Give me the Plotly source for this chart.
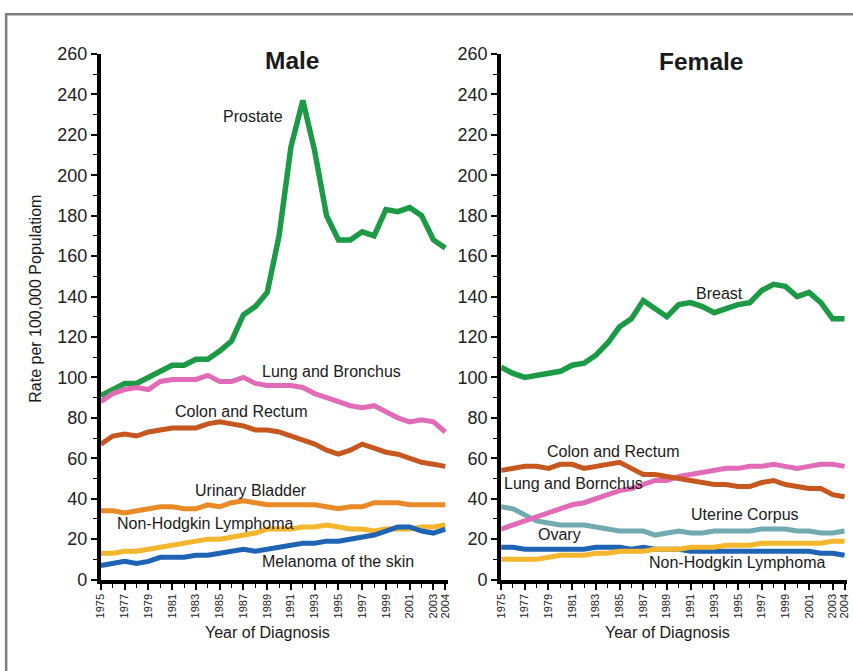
import plotly.graph_objects as go

# Cancer incidence rates per 100,000, by year of diagnosis
years = [1975, 1976, 1977, 1978, 1979, 1980, 1981, 1982, 1983, 1984,
         1985, 1986, 1987, 1988, 1989, 1990, 1991, 1992, 1993, 1994,
         1995, 1996, 1997, 1998, 1999, 2000, 2001, 2002, 2003, 2004]

tick_years = [1975, 1977, 1979, 1981, 1983, 1985, 1987, 1989, 1991,
              1993, 1995, 1997, 1999, 2001, 2003, 2004]
y_ticks = [0, 20, 40, 60, 80, 100, 120, 140, 160, 180, 200, 220, 240, 260]

# Male
male_prostate = [91, 94, 97, 97, 100, 103, 106, 106, 109, 109,
                 113, 118, 131, 135, 142, 170, 214, 237, 212, 180,
                 168, 168, 172, 170, 183, 182, 184, 180, 168, 164]
male_lung = [88, 92, 94, 95, 94, 98, 99, 99, 99, 101,
             98, 98, 100, 97, 96, 96, 96, 95, 92, 90,
             88, 86, 85, 86, 83, 80, 78, 79, 78, 73]
male_colon = [67, 71, 72, 71, 73, 74, 75, 75, 75, 77,
              78, 77, 76, 74, 74, 73, 71, 69, 67, 64,
              62, 64, 67, 65, 63, 62, 60, 58, 57, 56]
male_bladder = [34, 34, 33, 34, 35, 36, 36, 35, 35, 37,
                36, 38, 39, 38, 37, 37, 37, 37, 37, 36,
                35, 36, 36, 38, 38, 38, 37, 37, 37, 37]
male_nhl = [13, 13, 14, 14, 15, 16, 17, 18, 19, 20,
            20, 21, 22, 23, 25, 25, 25, 26, 26, 27,
            26, 25, 25, 24, 25, 25, 25, 26, 26, 27]
male_melanoma = [7, 8, 9, 8, 9, 11, 11, 11, 12, 12,
                 13, 14, 15, 14, 15, 16, 17, 18, 18, 19,
                 19, 20, 21, 22, 24, 26, 26, 24, 23, 25]

# Female
fem_breast = [105, 102, 100, 101, 102, 103, 106, 107, 111, 117,
              125, 129, 138, 134, 130, 136, 137, 135, 132, 134,
              136, 137, 143, 146, 145, 140, 142, 137, 129, 129]
fem_colon = [54, 55, 56, 56, 55, 57, 57, 55, 56, 57,
             58, 55, 52, 52, 51, 50, 49, 48, 47, 47,
             46, 46, 48, 49, 47, 46, 45, 45, 42, 41]
fem_lung = [25, 27, 29, 31, 33, 35, 37, 38, 40, 42,
            44, 45, 47, 49, 49, 51, 52, 53, 54, 55,
            55, 56, 56, 57, 56, 55, 56, 57, 57, 56]
fem_uterine = [36, 35, 32, 29, 28, 27, 27, 27, 26, 25,
               24, 24, 24, 22, 23, 24, 23, 23, 24, 24,
               24, 24, 25, 25, 25, 24, 24, 23, 23, 24]
fem_ovary = [16, 16, 15, 15, 15, 15, 15, 15, 16, 16,
             16, 15, 16, 15, 15, 15, 14, 14, 14, 14,
             14, 14, 14, 14, 14, 14, 14, 13, 13, 12]
fem_nhl = [10, 10, 10, 10, 11, 12, 12, 12, 13, 13,
           14, 14, 14, 15, 15, 15, 16, 16, 16, 17,
           17, 17, 18, 18, 18, 18, 18, 18, 19, 19]

GREEN = "#1d9a46"
PINK = "#e26bb8"
RUST = "#c6581f"
ORANGE = "#e98a27"
GOLD = "#f4b62c"
BLUE = "#1f63b4"
TEAL = "#72aab1"

FONT = "Liberation Sans, Arial, sans-serif"

# The figure sits inside the page body's default 8px margin; the visible
# window is scaled, so layout positions are given in window pixels and
# converted to paper fractions below.
PAGE_PAD = 8
SX, SY = 853 / 869, 671 / 687
W, H = 861, 679

fig = go.Figure()

male_series = [
    (male_prostate, GREEN, 5.5),
    (male_lung, PINK, 5),
    (male_colon, RUST, 5),
    (male_bladder, ORANGE, 5),
    (male_nhl, GOLD, 5),
    (male_melanoma, BLUE, 5),
]
fem_series = [
    (fem_breast, GREEN, 5.5),
    (fem_uterine, TEAL, 5),
    (fem_lung, PINK, 5),
    (fem_colon, RUST, 5),
    (fem_ovary, BLUE, 5),
    (fem_nhl, GOLD, 5),
]

for vals, col, w in male_series:
    fig.add_trace(go.Scatter(x=years, y=vals, mode="lines", xaxis="x", yaxis="y",
                             line=dict(color=col, width=w), showlegend=False))
for vals, col, w in fem_series:
    fig.add_trace(go.Scatter(x=years, y=vals, mode="lines", xaxis="x2", yaxis="y2",
                             line=dict(color=col, width=w), showlegend=False))


def px_x(p):
    # window pixel -> paper fraction
    return (p / SX - PAGE_PAD) / W


def px_y(p):
    return 1 - (p / SY - PAGE_PAD) / H


ydom = [px_y(581), px_y(52)]
xdom1 = [px_x(102), px_x(446)]
xdom2 = [px_x(499), px_x(842)]

xaxis_common = dict(
    range=[1975, 2004.2], tickmode="array", tickvals=tick_years,
    ticktext=[str(t) for t in tick_years], tickangle=-90,
    tickfont=dict(family=FONT, size=11, color="#222"),
    showline=True, linewidth=4, linecolor="black", ticks="outside",
    ticklen=6, tickwidth=1.5, tickcolor="black", showgrid=False, zeroline=False,
    minor=dict(tickmode="linear", tick0=1975, dtick=1, ticks="outside",
               ticklen=4, tickwidth=1.2, tickcolor="black"),
)
yaxis_common = dict(
    range=[0, 260], tickmode="array", tickvals=y_ticks,
    tickfont=dict(family=FONT, size=18, color="#222"),
    showline=True, linewidth=4, linecolor="black", ticks="outside",
    ticklen=6, tickwidth=1.5, tickcolor="black", showgrid=False, zeroline=False,
    minor=dict(tickmode="linear", tick0=0, dtick=10, ticks="outside",
               ticklen=4, tickwidth=1.2, tickcolor="black"),
)

fig.update_layout(
    width=W, height=H,
    margin=dict(l=0, r=0, t=0, b=0),
    paper_bgcolor="white", plot_bgcolor="white",
    xaxis=dict(domain=xdom1, anchor="y", **xaxis_common),
    yaxis=dict(domain=ydom, anchor="x", **yaxis_common),
    xaxis2=dict(domain=xdom2, anchor="y2", **xaxis_common),
    yaxis2=dict(domain=ydom, anchor="x2", **yaxis_common),
)

# outer frame
fig.add_shape(type="rect", xref="paper", yref="paper",
              x0=px_x(8), x1=px_x(900), y0=px_y(720), y1=px_y(12),
              line=dict(color="#7f7f7f", width=2.5), fillcolor="rgba(0,0,0,0)",
              layer="below")

# panel titles and series labels (positioned in data coordinates)
labels = [
    ("x", "y", 1991.1, 256.5, "<b>Male</b>", 24.5),
    ("x", "y", 1987.8, 229.0, "Prostate", 16),
    ("x", "y", 1994.4, 103.0, "Lung and Bronchus", 16),
    ("x", "y", 1986.8, 83.3, "Colon and Rectum", 16),
    ("x", "y", 1987.6, 44.3, "Urinary Bladder", 16),
    ("x", "y", 1983.8, 27.6, "Non-Hodgkin Lymphoma", 16),
    ("x", "y", 1995.0, 8.9, "Melanoma of the skin", 16),
    ("x2", "y2", 1991.9, 256.0, "<b>Female</b>", 24.5),
    ("x2", "y2", 1993.4, 141.4, "Breast", 16),
    ("x2", "y2", 1984.45, 63.2, "Colon and Rectum", 16),
    ("x2", "y2", 1981.1, 47.6, "Lung and Bornchus", 16),
    ("x2", "y2", 1995.6, 32.2, "Uterine Corpus", 16),
    ("x2", "y2", 1979.9, 22.4, "Ovary", 16),
    ("x2", "y2", 1994.9, 8.2, "Non-Hodgkin Lymphoma", 16),
]
for xr, yr, xv, yv, txt, sz in labels:
    fig.add_annotation(x=xv, y=yv, xref=xr, yref=yr, text=txt, showarrow=False,
                       font=dict(family=FONT, size=sz, color="#1a1a1a"),
                       xanchor="center", yanchor="middle")

# axis titles
for cx in (267, 664):
    fig.add_annotation(x=px_x(cx), y=px_y(634), xref="paper", yref="paper",
                       text="Year of Diagnosis", showarrow=False,
                       font=dict(family=FONT, size=16, color="#1a1a1a"),
                       xanchor="center", yanchor="middle")
fig.add_annotation(x=px_x(37), y=px_y(298), xref="paper", yref="paper",
                   text="Rate per 100,000 Populatiom", showarrow=False, textangle=-90,
                   font=dict(family=FONT, size=16, color="#1a1a1a"),
                   xanchor="center", yanchor="middle")

fig.write_html("out.html")
